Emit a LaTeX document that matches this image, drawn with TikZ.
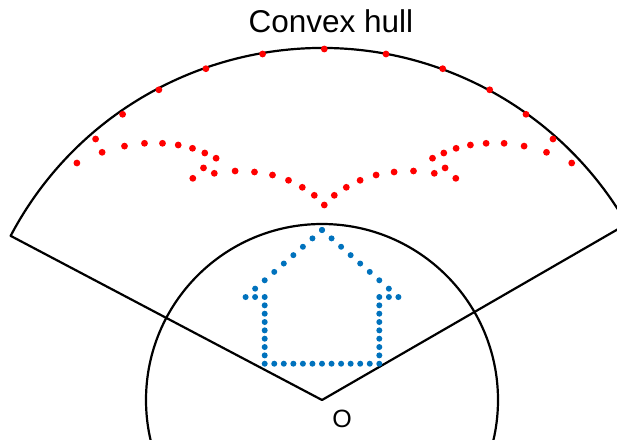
\documentclass[tikz,border=0pt]{standalone}
\usepackage{fontspec}
\setmainfont{Liberation Sans}
\usetikzlibrary{calc}

\definecolor{hullred}{RGB}{255,0,0}
\definecolor{houseblue}{RGB}{0,114,189}

\begin{document}
\begin{tikzpicture}[x=1pt, y=-1pt, line join=round, line cap=round,
  reddot/.style={fill=hullred},
  bluedot/.style={fill=houseblue},
  outline/.style={line width=2.2pt, black}]
  % Frame of the picture
  \useasboundingbox (0,0) rectangle (617,439);
  \clip (0,0) rectangle (617,439);

  % Define origin, radii and axis of the point cloud
  \coordinate (O) at (322,400);
  \def\rsec{352}
  \def\rcirc{176}
  \def\cx{324.3}

  % Draw the sector and the circle
  \draw[outline] (O) -- ++(-152.2:\rsec) coordinate (L)
    arc[start angle=-152.2, end angle=-30, radius=\rsec] coordinate (R) -- cycle;
  \draw[outline] (O) circle[radius=\rcirc];

  % Red points near the arc (mirrored about the axis)
  \fill[reddot] (\cx,49) circle[radius=3.4];
  \foreach \dx/\y in {61.7/54, 118.4/68.7, 165.4/89.8, 201.7/114.3, 228.7/139, 247.4/163}{
    \fill[reddot] (\cx-\dx,\y) circle[radius=3.4];
    \fill[reddot] (\cx+\dx,\y) circle[radius=3.4];
  }

  % Red points of the inner curve
  \fill[reddot] (\cx,205) circle[radius=3.4];
  \foreach \dx/\y in {222.2/152.3, 199.8/146.1, 179.8/143.3, 161.8/143.3, 146.1/145,
      131.8/148.3, 119.5/153, 108.2/158.2, 120.8/167.9, 110/173.3, 131.5/178.3,
      89.2/171, 69.8/172, 51.8/175, 35.8/180.3, 22/187.3, 10/195.3}{
    \fill[reddot] (\cx-\dx,\y) circle[radius=3.4];
    \fill[reddot] (\cx+\dx,\y) circle[radius=3.4];
  }

  % Blue house: roof, eaves, walls and floor
  \coordinate (apex) at (322,230);
  \foreach \k in {0,...,8}{
    \fill[bluedot] ($(apex)+(-9.55*\k,8.38*\k)$) circle[radius=3];
    \fill[bluedot] ($(apex)+(9.55*\k,8.38*\k)$) circle[radius=3];
  }
  \foreach \s in {-1,1}{
    \fill[bluedot] (322+66.9*\s,297) circle[radius=3];
    \foreach \i in {0,...,8}
      \fill[bluedot] (322+57.3*\s,297+8.34*\i) circle[radius=3];
  }
  \foreach \j in {1,...,11}
    \fill[bluedot] (264.7+9.55*\j,363.7) circle[radius=3];

  % Labels
  \node[font=\fontsize{31.5}{32}\selectfont, anchor=base] (title) at (330.8,32.3) {Convex hull};
  \node[font=\fontsize{25}{26}\selectfont, anchor=base] (olabel) at (342,427.3) {O};
\end{tikzpicture}
\end{document}
